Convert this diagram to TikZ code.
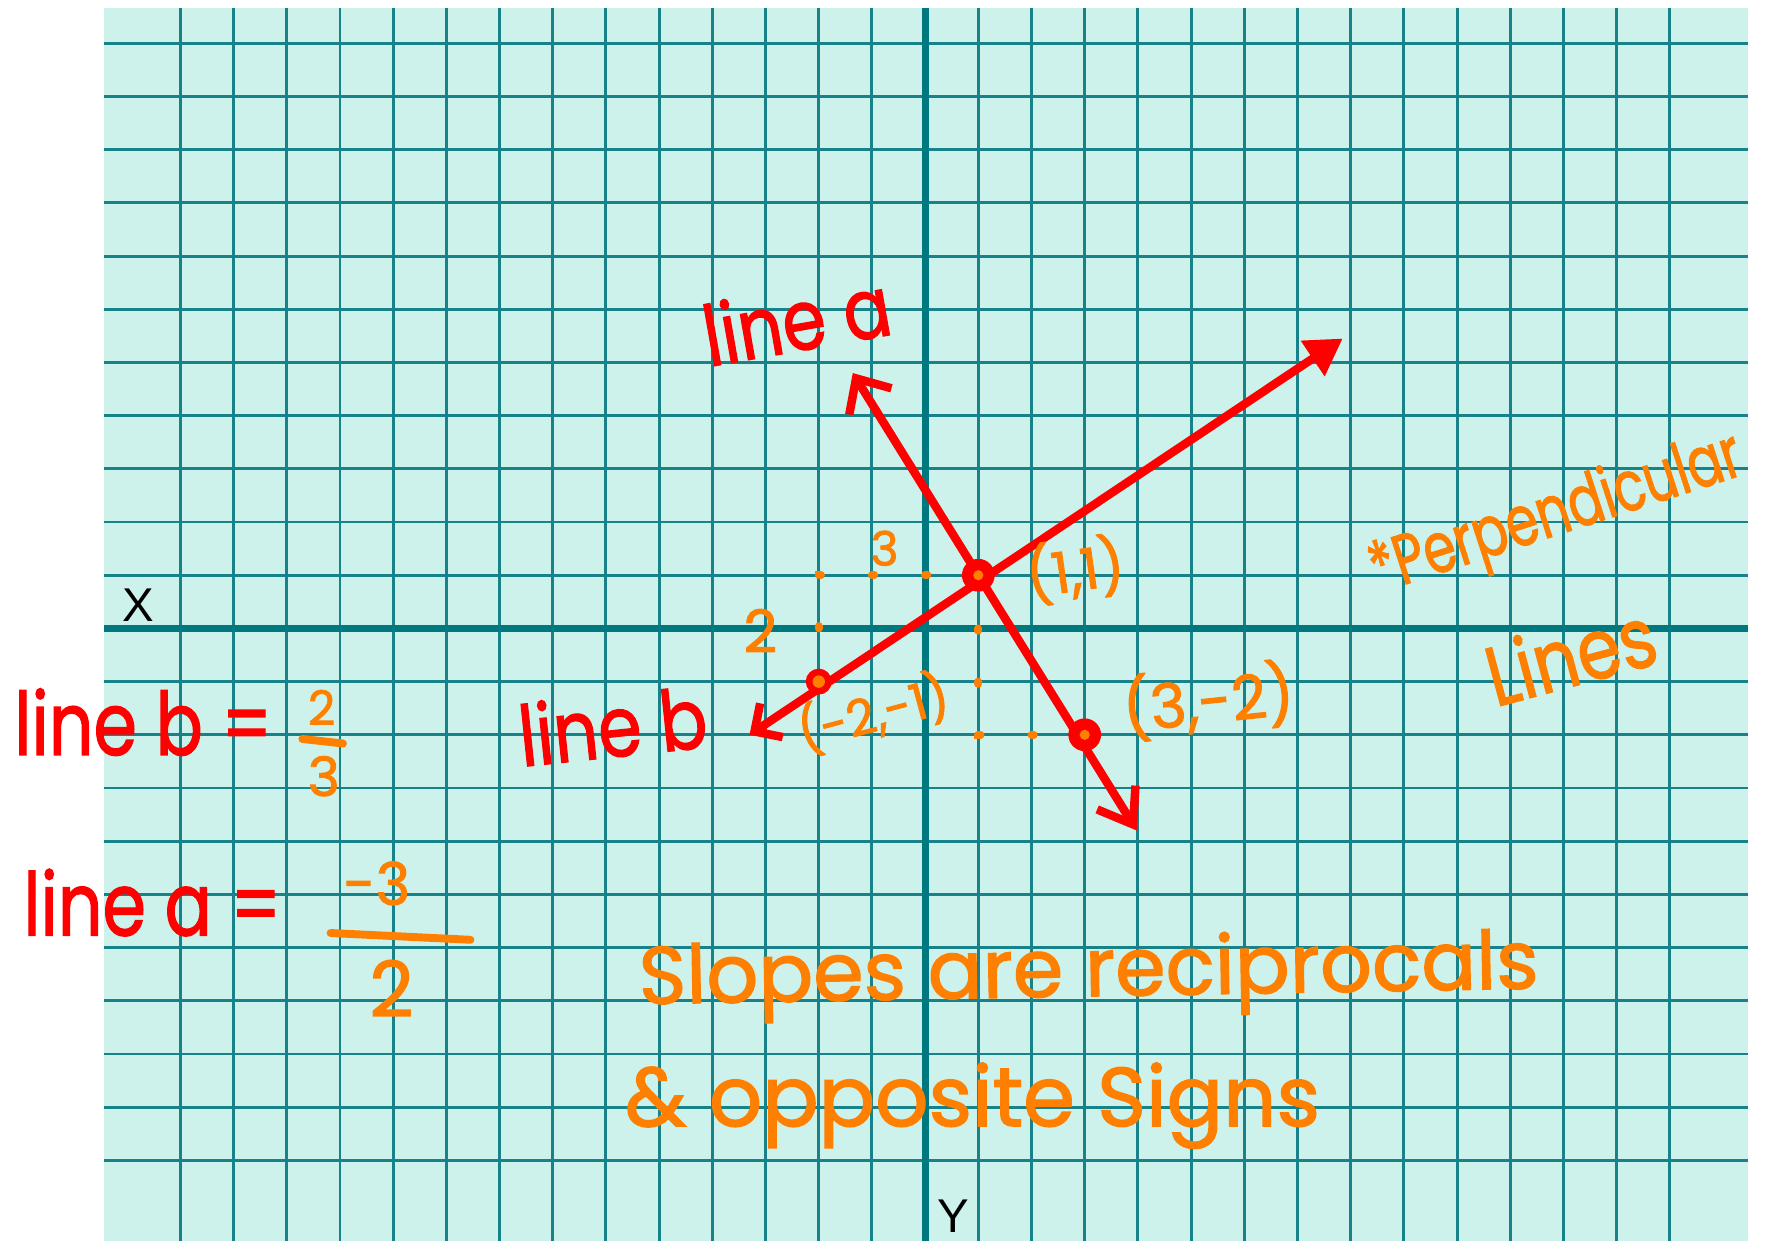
\documentclass[tikz,border=0pt]{standalone}
\usepackage{fontspec}
\usetikzlibrary{arrows.meta}
\newfontfamily\handfont[FakeBold=1.6]{Poppins}
\newfontfamily\labfont{Liberation Sans}
\definecolor{paper}{HTML}{CCF2EB}
\definecolor{gridc}{HTML}{17828A}
\definecolor{axisc}{HTML}{007880}
\definecolor{pen}{HTML}{FF0000}
\definecolor{marker}{HTML}{FF8000}
\tikzset{
 gridline/.style={draw=gridc, line width=2.6pt},
 axisline/.style={draw=axisc, line width=6pt},
 redline/.style={draw=pen, line width=7.5pt, line cap=round, line join=round},
 slopedots/.style={draw=marker, line width=7pt, line cap=round, dash pattern=on 2pt off 45.15pt},
 ptnode/.style={circle, fill=pen, inner sep=0pt, minimum size=#1},
 hand/.style={font=\handfont\fontsize{#1}{#1}\selectfont, inner sep=0pt},
 redtxt/.style={hand=#1, text=pen},
 ortxt/.style={hand=#1, text=marker},
 axlabel/.style={font=\labfont\fontsize{42}{42}\selectfont, text=black, inner sep=0pt},
 fracbar/.style={draw=marker, line width=7pt, line cap=round},
}
\begin{document}
\begin{tikzpicture}[x=1pt,y=-1pt]
\useasboundingbox (0,0) rectangle (1568,1100);
\fill[paper] (92,7) rectangle (1549,1100);
\foreach \k in {-14,...,14} \draw[gridline] ({820+47.15*\k},7) -- ({820+47.15*\k},1100);
\foreach \k in {-11,...,10} \draw[gridline] (92,{557+47.15*\k}) -- (1549,{557+47.15*\k});
\draw[axisline] (820,7) -- (820,1100);
\draw[axisline] (92,557) -- (1549,557);
\node[axlabel] (xlab) at (123,536) {X};
\node[axlabel] (ylab) at (845,1078) {Y};

\begin{scope}[shift={(820,557)}, x=47.15pt, y=47.15pt]
 \coordinate (P) at (-2,-1);
 \coordinate (Q) at (1,1);
 \coordinate (R) at (3,-2);
 \coordinate (b1) at (-3.3,-2.0);
 \coordinate (b2) at (7.85,5.45);
 \coordinate (a1) at (-1.36,4.8);
 \coordinate (a2) at (3.98,-3.8);
 \draw[slopedots] (P) |- (Q);
 \draw[slopedots] (Q) |- (R);
 \draw[redline, {Straight Barb[length=18pt,width=36pt]}-{Triangle[length=32pt,width=36pt]}] (b1) -- (b2);
 \draw[redline, {Straight Barb[length=24pt,width=44pt]}-{Straight Barb[length=28pt,width=40pt]}] (a1) -- (a2);
 \node[ptnode=23pt] (Pdot) at (P) {};
 \node[ptnode=29pt] (Qdot) at (Q) {};
 \node[ptnode=29pt] (Rdot) at (R) {};
 \fill[marker] (Pdot) circle (5.5pt);
 \fill[marker] (Qdot) circle (4.5pt);
 \fill[marker] (Rdot) circle (4.5pt);
\end{scope}

\node[redtxt=62, rotate=10, yscale=1.2] (lineA) at (706,283) {line a};
\node[redtxt=62, rotate=6, yscale=1.2] (lineB) at (543,643) {line b};
\node[redtxt=62, yscale=1.25] (lbl1) at (127,640) {line b =};
\node[ortxt=42] (n1) at (285,627) {2};
\draw[fracbar] (268,655) -- (304,659);
\node[ortxt=48] (d1) at (287,688) {3};
\node[redtxt=62, yscale=1.25] (lbl2) at (135,800) {line a =};
\node[ortxt=52] (n2) at (334,783) {-3};
\draw[fracbar] (293,827) -- (417,833);
\node[ortxt=68] (d2) at (347,876) {2};
\node[ortxt=50, rotate=8] (c11) at (953,505) {(1,1)};
\node[ortxt=44, rotate=15] (cm21) at (774,632) {(-2,-1)};
\node[ortxt=54, rotate=6] (c3m2) at (1071,621) {(3,-2)};
\node[ortxt=42] (t3) at (784,486) {3};
\node[ortxt=52] (t2) at (674,559) {2};
\node[ortxt=46, rotate=18, yscale=1.35] (perp) at (1380,458) {*Perpendicular};
\node[ortxt=62, rotate=15, yscale=1.2] (lines) at (1392,580) {Lines};
\node[ortxt=72, rotate=1] (s1) at (965,865) {Slopes are reciprocals};
\node[ortxt=74] (s2) at (862,980) {\& opposite Signs};
\end{tikzpicture}
\end{document}
